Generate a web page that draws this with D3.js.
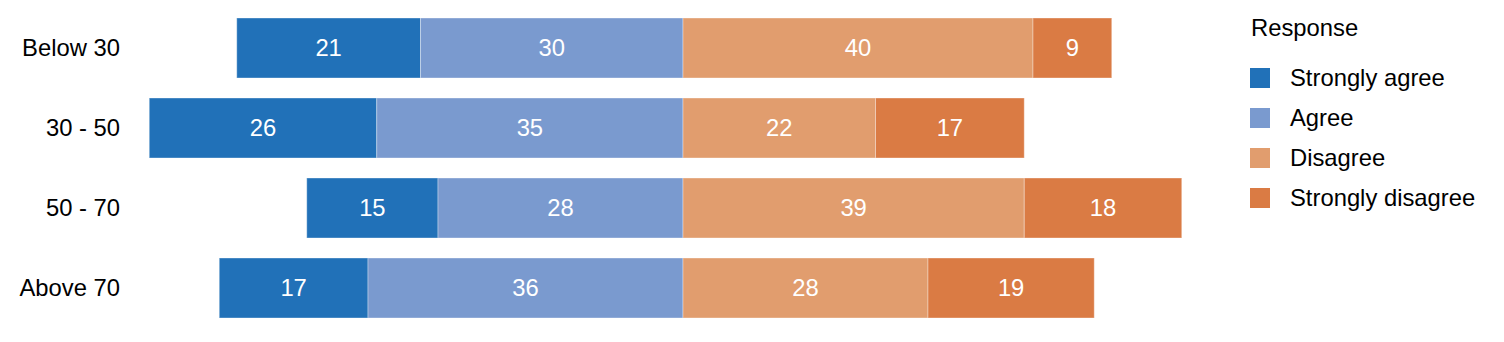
<!DOCTYPE html>
<html>
<head>
<meta charset="utf-8">
<script src="https://cdn.jsdelivr.net/npm/d3@7"></script>
<style>
  body { margin: 0; background: #fff; }
  svg text { font-family: "Liberation Sans", Arial, sans-serif; }
</style>
</head>
<body>
<div id="chart"></div>
<script>
var ageGroups = ['Below 30', '30 - 50', '50 - 70', 'Above 70'];
var responses = ['Strongly agree', 'Agree', 'Disagree', 'Strongly disagree'];
var stronglyAgree = [21, 26, 15, 17];
var agree = [30, 35, 28, 36];
var disagree = [40, 22, 39, 28];
var stronglyDisagree = [9, 17, 18, 19];
var colors = ['#2171b8', '#7a9acf', '#e19d6e', '#da7b44'];

var width = 1504, height = 342;

var svg = d3.select('#chart')
    .append('svg')
    .attr('width', width)
    .attr('height', height);

// build segments: agree side goes left of zero, disagree side right
var rows = ageGroups.map(function (g, i) {
    var sa = stronglyAgree[i], a = agree[i], d = disagree[i], sd = stronglyDisagree[i];
    return {
        group: g,
        segs: [
            { key: 0, x0: -(sa + a), x1: -a, v: sa },
            { key: 1, x0: -a, x1: 0, v: a },
            { key: 2, x0: 0, x1: d, v: d },
            { key: 3, x0: d, x1: d + sd, v: sd }
        ]
    };
});

var minX = d3.min(rows, function (r) { return r.segs[0].x0; });
var maxX = d3.max(rows, function (r) { return r.segs[3].x1; });
var unit = 8.75, center = 683;

var xScale = d3.scaleLinear()
    .domain([minX, maxX])
    .range([center + minX * unit, center + maxX * unit]);

var yScale = d3.scaleBand()
    .domain(ageGroups)
    .range([8, 328])
    .paddingInner(0.25)
    .paddingOuter(0.125);

var fs = 23.8;

var g = svg.selectAll('g.row')
    .data(rows)
    .enter()
    .append('g')
    .attr('class', 'row')
    .attr('transform', function (d) { return 'translate(0,' + yScale(d.group) + ')'; });

g.selectAll('rect')
    .data(function (d) { return d.segs; })
    .enter()
    .append('rect')
    .attr('x', function (d) { return xScale(d.x0); })
    .attr('width', function (d) { return xScale(d.x1) - xScale(d.x0); })
    .attr('y', 0)
    .attr('height', yScale.bandwidth())
    .attr('fill', function (d) { return colors[d.key]; })
    .attr('stroke', 'rgba(255,255,255,0.35)')
    .attr('stroke-width', 1);

g.selectAll('text.val')
    .data(function (d) { return d.segs; })
    .enter()
    .append('text')
    .attr('class', 'val')
    .attr('x', function (d) { return (xScale(d.x0) + xScale(d.x1)) / 2; })
    .attr('y', yScale.bandwidth() / 2)
    .attr('dy', '0.35em')
    .attr('text-anchor', 'middle')
    .attr('fill', '#fff')
    .style('font-size', fs + 'px')
    .text(function (d) { return d.v; });

// category labels
svg.selectAll('text.cat')
    .data(ageGroups)
    .enter()
    .append('text')
    .attr('class', 'cat')
    .attr('x', 120)
    .attr('y', function (d) { return yScale(d) + yScale.bandwidth() / 2; })
    .attr('dy', '0.35em')
    .attr('text-anchor', 'end')
    .attr('fill', '#000')
    .style('font-size', fs + 'px')
    .text(function (d) { return d; });

// legend
var legend = svg.append('g').attr('transform', 'translate(1250,0)');

legend.append('text')
    .attr('x', 1)
    .attr('y', 28)
    .attr('dy', '0.35em')
    .attr('fill', '#000')
    .style('font-size', fs + 'px')
    .text('Response');

var items = legend.selectAll('g.item')
    .data(responses)
    .enter()
    .append('g')
    .attr('class', 'item')
    .attr('transform', function (d, i) { return 'translate(0,' + (78 + i * 40) + ')'; });

items.append('rect')
    .attr('x', 0)
    .attr('y', -10)
    .attr('width', 20)
    .attr('height', 20)
    .attr('fill', function (d, i) { return colors[i]; });

items.append('text')
    .attr('x', 40)
    .attr('y', 0)
    .attr('dy', '0.35em')
    .attr('fill', '#000')
    .style('font-size', fs + 'px')
    .text(function (d) { return d; });
</script>
</body>
</html>
